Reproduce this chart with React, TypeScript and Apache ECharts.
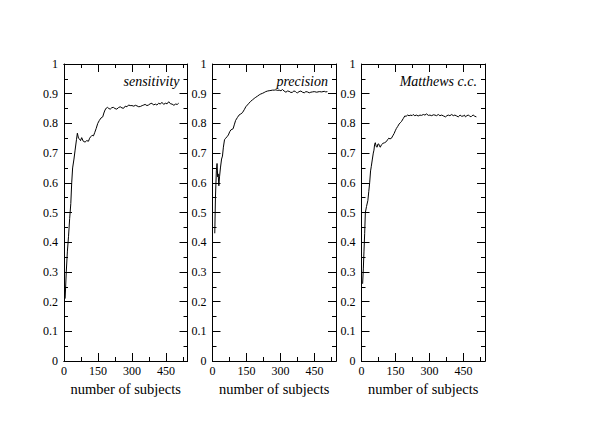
import React, { useEffect, useRef } from "react";
import * as echarts from "echarts";

const panelTitles = ["sensitivity", "precision", "Matthews c.c."];
const xAxisTitle = "number of subjects";
const X_MAX = 545;

const sensitivity: [number, number][] = [
  [5, 0.21], [10, 0.3], [15, 0.37], [20, 0.42], [25, 0.48], [30, 0.53], [34, 0.6], [38, 0.65],
  [44, 0.68], [49, 0.71], [55, 0.745], [59, 0.767], [64, 0.75], [68, 0.748], [73, 0.742], [78, 0.752],
  [85, 0.74], [93, 0.737], [100, 0.742], [108, 0.74], [113, 0.75], [118, 0.755], [124, 0.76], [130, 0.758],
  [136, 0.77], [142, 0.783], [149, 0.8], [156, 0.81], [163, 0.818], [171, 0.822], [176, 0.835], [181, 0.845],
  [187, 0.852], [192, 0.854], [198, 0.85], [204, 0.848], [211, 0.853], [218, 0.854], [225, 0.85], [233, 0.848],
  [240, 0.853], [248, 0.856], [256, 0.852], [263, 0.851], [270, 0.858], [278, 0.856], [285, 0.862], [292, 0.86],
  [300, 0.86], [308, 0.858], [315, 0.861], [322, 0.859], [330, 0.856], [337, 0.857], [345, 0.86], [352, 0.862],
  [358, 0.864], [366, 0.86], [373, 0.862], [380, 0.866], [388, 0.868], [395, 0.862], [403, 0.865], [410, 0.862],
  [418, 0.868], [425, 0.865], [432, 0.871], [440, 0.864], [447, 0.868], [455, 0.866], [462, 0.873], [470, 0.866],
  [477, 0.865], [485, 0.861], [492, 0.865], [500, 0.864], [506, 0.868],
];

const precision: [number, number][] = [
  [10, 0.43], [13, 0.55], [17, 0.64], [20, 0.665], [23, 0.62], [25, 0.63], [28, 0.59], [31, 0.62],
  [35, 0.65], [40, 0.68], [44, 0.69], [48, 0.72], [53, 0.745], [58, 0.75], [64, 0.755], [70, 0.761],
  [76, 0.772], [81, 0.778], [86, 0.78], [91, 0.782], [96, 0.795], [102, 0.81], [110, 0.82], [117, 0.828],
  [125, 0.832], [132, 0.836], [140, 0.846], [147, 0.856], [154, 0.862], [161, 0.868], [168, 0.874], [176, 0.879],
  [184, 0.884], [191, 0.888], [199, 0.892], [206, 0.896], [213, 0.899], [220, 0.901], [228, 0.904], [235, 0.907],
  [243, 0.909], [250, 0.91], [258, 0.911], [265, 0.912], [272, 0.912], [280, 0.913], [287, 0.911], [294, 0.912],
  [302, 0.91], [309, 0.914], [316, 0.909], [324, 0.905], [331, 0.909], [338, 0.908], [346, 0.904], [353, 0.905],
  [359, 0.909], [365, 0.908], [370, 0.904], [375, 0.903], [382, 0.907], [390, 0.909], [397, 0.905], [405, 0.903],
  [412, 0.907], [419, 0.906], [427, 0.903], [434, 0.905], [441, 0.906], [449, 0.907], [460, 0.905], [471, 0.907],
  [482, 0.906], [493, 0.908], [500, 0.906], [507, 0.907],
];

const matthews: [number, number][] = [
  [5, 0.26], [8, 0.31], [11, 0.37], [14, 0.43], [17, 0.5], [22, 0.52], [28, 0.54], [32, 0.57],
  [36, 0.6], [40, 0.64], [43, 0.654], [48, 0.68], [52, 0.7], [55, 0.71], [58, 0.73], [61, 0.735],
  [65, 0.722], [69, 0.72], [72, 0.73], [76, 0.731], [80, 0.722], [83, 0.72], [88, 0.728], [95, 0.733],
  [102, 0.735], [110, 0.739], [115, 0.745], [120, 0.75], [126, 0.748], [132, 0.75], [138, 0.758], [144, 0.766],
  [149, 0.775], [154, 0.783], [160, 0.79], [166, 0.798], [171, 0.802], [176, 0.806], [184, 0.816], [191, 0.825],
  [197, 0.824], [203, 0.828], [210, 0.826], [218, 0.828], [223, 0.826], [228, 0.83], [235, 0.826], [243, 0.828],
  [250, 0.825], [258, 0.828], [265, 0.827], [273, 0.83], [280, 0.828], [287, 0.832], [295, 0.827], [302, 0.828],
  [310, 0.826], [317, 0.829], [324, 0.828], [331, 0.826], [339, 0.83], [346, 0.826], [354, 0.828], [362, 0.825],
  [371, 0.822], [377, 0.826], [383, 0.828], [390, 0.826], [398, 0.83], [405, 0.826], [412, 0.828], [420, 0.825],
  [427, 0.822], [435, 0.828], [442, 0.824], [449, 0.825], [454, 0.828], [459, 0.822], [465, 0.826], [471, 0.828],
  [477, 0.825], [483, 0.822], [488, 0.826], [493, 0.828], [500, 0.824], [507, 0.822],
];

const panelData = [sensitivity, precision, matthews];

const GRID_LEFTS = [64, 212.5, 361.5];
const GRID_W = 123.5;
const GRID_TOP = 64;
const GRID_H = 297;
const FONT = '"Liberation Serif", "DejaVu Serif", serif';

export default function App() {
  const ref = useRef<HTMLDivElement>(null);
  useEffect(() => {
    if (!ref.current) return;
    const chart = echarts.init(ref.current, undefined, { renderer: "svg" });
    const grids: any[] = [];
    const xAxes: any[] = [];
    const yAxes: any[] = [];
    const series: any[] = [];
    const graphics: any[] = [];
    const lineStyle = { color: "#000", width: 1 };

    GRID_LEFTS.forEach((left, i) => {
      grids.push({ left, top: GRID_TOP, width: GRID_W, height: GRID_H, containLabel: false });
      const baseX = {
        type: "value",
        gridIndex: i,
        min: 0,
        max: X_MAX,
        splitLine: { show: false },
        axisLine: { show: true, onZero: false, lineStyle },
      };
      const xIdx = xAxes.length;
      xAxes.push({
        ...baseX,
        position: "bottom",
        interval: 75,
        axisTick: { show: true, inside: true, length: 4, lineStyle },
        axisLabel: {
          show: true,
          margin: 4,
          color: "#000",
          fontSize: 12,
          fontFamily: FONT,
          formatter: (v: number) => (v % 150 === 0 ? String(v) : ""),
        },
        name: xAxisTitle,
        nameLocation: "middle",
        nameGap: 14,
        nameTextStyle: { color: "#000", fontSize: 14.5, fontFamily: FONT },
      });
      xAxes.push({
        ...baseX,
        position: "bottom",
        interval: 150,
        axisTick: { show: true, inside: true, length: 8, lineStyle },
        axisLabel: { show: false },
      });
      xAxes.push({
        ...baseX,
        position: "top",
        interval: 75,
        axisTick: { show: true, inside: true, length: 4, lineStyle },
        axisLabel: { show: false },
      });
      xAxes.push({
        ...baseX,
        position: "top",
        interval: 150,
        axisTick: { show: true, inside: true, length: 8, lineStyle },
        axisLabel: { show: false },
      });
      const baseY = {
        type: "value",
        gridIndex: i,
        min: 0,
        max: 1,
        interval: 0.1,
        splitLine: { show: false },
        axisLine: { show: true, onZero: false, lineStyle },
        axisTick: { show: true, inside: true, length: 8, lineStyle },
        minorTick: { show: true, splitNumber: 2, length: 4, lineStyle },
        minorSplitLine: { show: false },
      };
      const yIdx = yAxes.length;
      yAxes.push({
        ...baseY,
        position: "left",
        axisLabel: { show: true, margin: 6, color: "#000", fontSize: 12, fontFamily: FONT },
      });
      yAxes.push({
        ...baseY,
        position: "right",
        axisLabel: { show: false },
      });
      series.push({
        type: "line",
        xAxisIndex: xIdx,
        yAxisIndex: yIdx,
        data: panelData[i],
        showSymbol: false,
        symbol: "none",
        lineStyle: { color: "#000", width: 1 },
        silent: true,
      });
      graphics.push({
        type: "text",
        x: left + GRID_W - 8,
        y: GRID_TOP + 17,
        style: {
          text: panelTitles[i],
          align: "right",
          verticalAlign: "middle",
          fontStyle: "italic",
          fontSize: 14,
          fontFamily: FONT,
          fill: "#000",
        },
      });
    });

    chart.setOption({
      animation: false,
      backgroundColor: "#fff",
      grid: grids,
      xAxis: xAxes,
      yAxis: yAxes,
      series,
      graphic: graphics,
    });
    return () => chart.dispose();
  }, []);
  return (
    <div
      ref={ref}
      style={{ position: "fixed", left: 0, top: 0, width: 600, height: 424, background: "#fff" }}
    />
  );
}
